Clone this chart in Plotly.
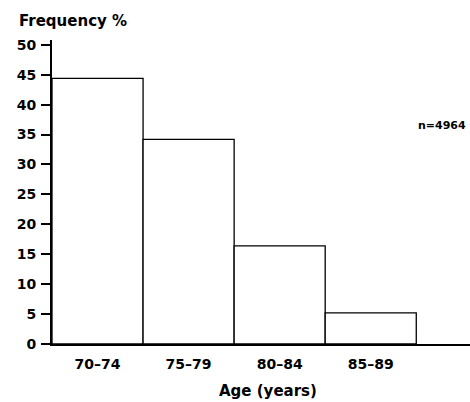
import plotly.graph_objects as go

age_groups = ["70–74", "75–79", "80–84", "85–89"]
frequency_pct = [44.4, 34.2, 16.4, 5.2]
y_ticks = [0, 5, 10, 15, 20, 25, 30, 35, 40, 45, 50]

FONT = "DejaVu Sans"

fig = go.Figure(
    go.Bar(
        x=list(range(len(age_groups))),
        y=frequency_pct,
        width=1.0,
        marker=dict(color="white", line=dict(color="black", width=1.3)),
        hoverinfo="skip",
    )
)

fig.update_layout(
    width=470,
    height=402,
    margin=dict(l=52, r=0, t=40, b=57.5),
    paper_bgcolor="white",
    plot_bgcolor="white",
    showlegend=False,
    font=dict(family=FONT, color="black"),
)

fig.update_xaxes(
    range=[-0.5, 4.09],
    tickmode="array",
    tickvals=list(range(len(age_groups))),
    ticktext=age_groups,
    tickfont=dict(family=FONT, size=14, weight="bold"),
    showline=True,
    linecolor="black",
    linewidth=1.5,
    ticks="",
    showgrid=False,
    zeroline=False,
    ticklabelstandoff=6,
)

fig.update_yaxes(
    range=[0, 50.8],
    tickmode="array",
    tickvals=y_ticks,
    tickfont=dict(family=FONT, size=14, weight="bold"),
    showline=True,
    linecolor="black",
    linewidth=2,
    ticks="outside",
    ticklen=9,
    tickwidth=1.5,
    tickcolor="black",
    ticklabelstandoff=2,
    showgrid=False,
    zeroline=False,
)

# x-axis baseline extends slightly left of the y axis
fig.add_shape(
    type="line", xref="paper", yref="y", x0=-0.022, x1=0, y0=0, y1=0,
    line=dict(color="black", width=1.5),
)

fig.add_annotation(
    text="Frequency %", xref="paper", yref="paper", x=-0.084, y=1.063,
    xanchor="left", yanchor="middle", showarrow=False,
    font=dict(family=FONT, size=15, weight="bold"),
)
fig.add_annotation(
    text="Age (years)", xref="paper", yref="paper", x=0.517, y=-0.155,
    xanchor="center", yanchor="middle", showarrow=False,
    font=dict(family=FONT, size=15, weight="bold"),
)
fig.add_annotation(
    text="n=4964", xref="paper", yref="paper", x=0.995, y=0.72,
    xanchor="right", yanchor="middle", showarrow=False,
    font=dict(family=FONT, size=11, weight="bold"),
)

fig.write_html(
    "out.html",
    config={"displayModeBar": False},
    post_script="document.body.style.margin='0';document.body.style.padding='0';",
)
